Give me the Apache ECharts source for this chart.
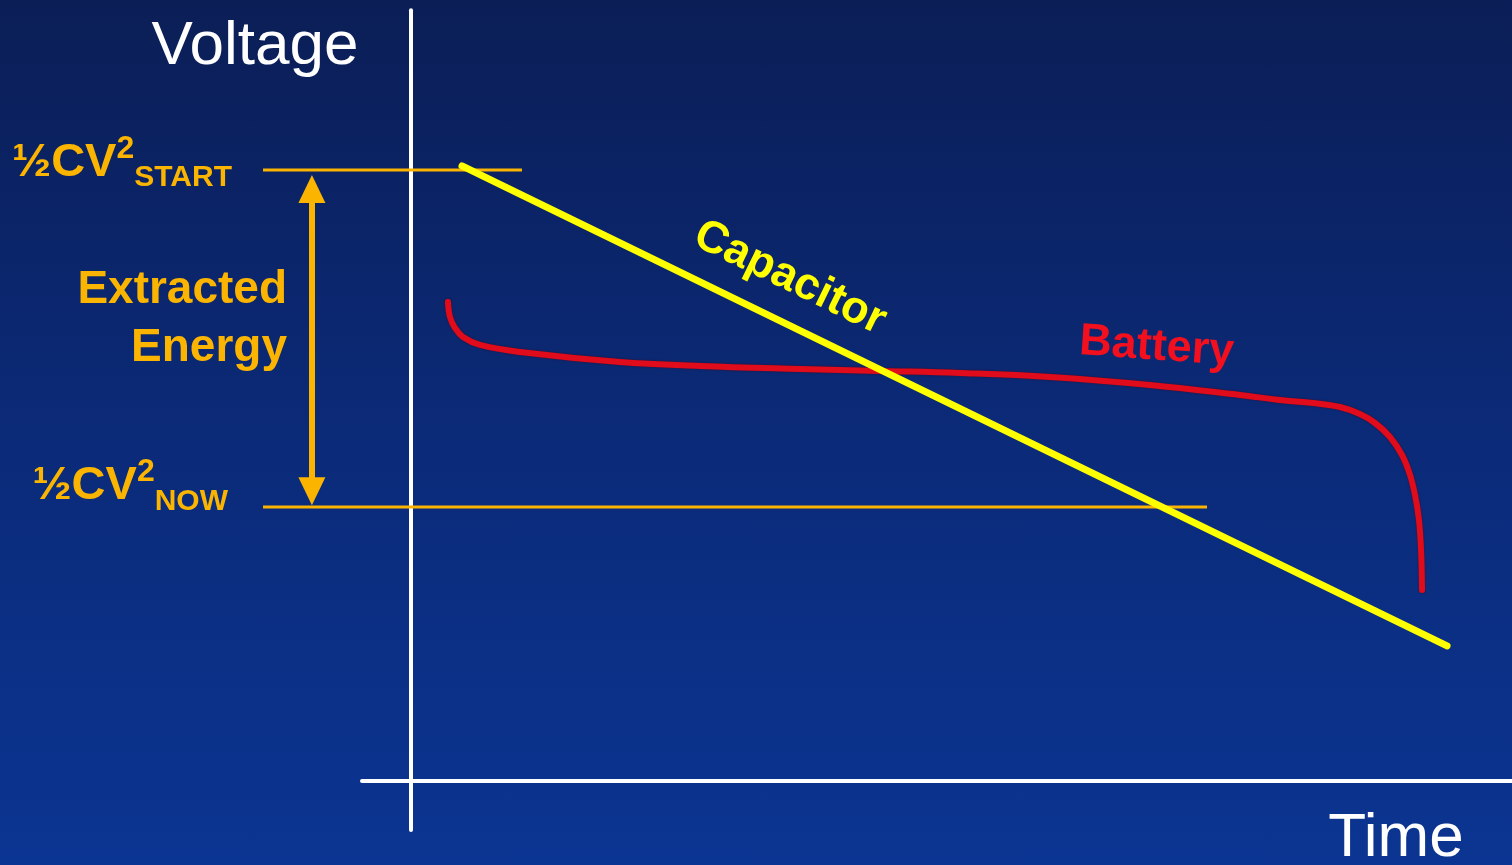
<!DOCTYPE html>
<html><head><meta charset="utf-8">
<script src="https://cdn.jsdelivr.net/npm/echarts@6/dist/echarts.min.js"></script>
<style>
html,body{margin:0;padding:0;width:1512px;height:865px;overflow:hidden;background:linear-gradient(180deg,#0b1e56 0%,#0b2a78 50%,#0b3592 100%);}
#c{width:1512px;height:865px;}
</style>
</head><body><div id="c"></div>
<script>
// ---- data (time units horizontally, voltage units vertically) ----
const timeRange = [-37.33, 100];
const voltageRange = [-10.755, 100];
const timeAxisExtent = [-4.45, 100];
const voltageAxisExtent = [-6.27, 98.7];

const energyLevelNames = ['START', 'NOW'];
const energyLevelValues = [78.23, 35.08];
const energyLineFrom = [-13.44, -13.44];
const energyLineTo = [10.08, 72.3];
const energyLabelTime = [-16.26, -16.62];
const energyLabelVoltage = [79.14, 37.72];
const arrowTime = -9;
const arrowVoltage = [75.8, 37.1];

const capacitorTime = [4.63, 94.1];
const capacitorVoltage = [78.75, 17.29];

const batteryTime = [3.36, 3.54, 4.0, 4.72, 6.27, 9.9, 18.98, 26.25, 35.33, 42.6, 49.86, 58.04, 67.12, 75.3, 78.93, 81.93, 84.38, 86.19, 87.56, 88.92, 90.01, 90.74, 91.19, 91.55, 91.74, 91.83];
const batteryVoltage = [61.33, 59.41, 58.0, 56.85, 55.83, 54.93, 53.65, 53.14, 52.75, 52.5, 52.24, 51.73, 50.7, 49.42, 48.78, 48.40, 47.89, 46.99, 45.84, 44.05, 41.74, 39.18, 36.62, 33.42, 29.58, 24.46];

const textLabels = ['Voltage', 'Time', 'Extracted\nEnergy', 'Capacitor', 'Battery'];
const textTime = [-14.17, 89.46, -11.26, 34.42, 67.72];
const textVoltage = [94.05, -7.36, 59.15, 64.4, 55.55];

// ---- styles ----
const FONT = "'Liberation Sans', Arial, sans-serif";
const ORANGE = '#fbb400';
const YELLOW = '#ffff00';
const RED = '#e00b1b';
const WHITE = '#ffffff';

const zip = (a, b) => a.map((v, i) => [v, b[i]]);

const series = [];
// axes
series.push({type:'line', data:[[0, voltageAxisExtent[0]],[0, voltageAxisExtent[1]]], symbol:'none', silent:true, z:1,
  lineStyle:{color:WHITE, width:4, cap:'round'}});
series.push({type:'line', data:[[timeAxisExtent[0],0],[timeAxisExtent[1],0]], symbol:'none', silent:true, z:1,
  lineStyle:{color:WHITE, width:4, cap:'round'}});
// energy levels
energyLevelValues.forEach((v, i) => {
  series.push({type:'line', data:[[energyLineFrom[i], v],[energyLineTo[i], v]], symbol:'none', silent:true, z:2,
    lineStyle:{color:ORANGE, width:3}});
  series.push({type:'scatter', data:[[energyLabelTime[i], energyLabelVoltage[i]]], symbolSize:0, silent:true, z:5,
    itemStyle:{opacity:1},
    label:{show:true, position:'left', distance:0, opacity:1,
      formatter:'{m|½CV}{sup|2}{sub|' + energyLevelNames[i] + '}',
      rich:{
        m:{fontFamily:FONT, fontSize:47, fontWeight:'bold', color:ORANGE, lineHeight:60, verticalAlign:'middle'},
        sup:{fontFamily:FONT, fontSize:32, fontWeight:'bold', color:ORANGE, lineHeight:29, verticalAlign:'top'},
        sub:{fontFamily:FONT, fontSize:30, fontWeight:'bold', color:ORANGE, lineHeight:36, verticalAlign:'bottom'}
      }}});
});
// arrow
series.push({type:'line', data:[], silent:true, z:3,
  markLine:{silent:true, symbol:['triangle','triangle'], symbolSize:[27,28], label:{show:false},
    lineStyle:{color:ORANGE, width:6, type:'solid', opacity:1},
    itemStyle:{color:ORANGE},
    data:[[{coord:[arrowTime, arrowVoltage[0]]},{coord:[arrowTime, arrowVoltage[1]]}]]}});
// battery
series.push({type:'line', data:zip(batteryTime, batteryVoltage), symbol:'none', smooth:0.4, silent:true, z:3,
  lineStyle:{color:RED, width:6, cap:'round', join:'round', shadowColor:'rgba(80,0,0,0.7)', shadowBlur:2}});
// capacitor
series.push({type:'line', data:zip(capacitorTime, capacitorVoltage), symbol:'none', silent:true, z:4,
  lineStyle:{color:YELLOW, width:7, cap:'round'}});
// text labels
const textStyles = [
  {fontSize:62, fontWeight:'normal', color:WHITE, rotate:0, position:'inside'},
  {fontSize:62, fontWeight:'normal', color:WHITE, rotate:0, position:'inside'},
  {fontSize:46, fontWeight:'bold', color:ORANGE, rotate:0, position:'left', lineHeight:58, align:'right'},
  {fontSize:45, fontWeight:'bold', color:YELLOW, rotate:-26, position:'inside'},
  {fontSize:45, fontWeight:'bold', color:'#f2101f', rotate:-4, position:'inside'}
];
textLabels.forEach((t, i) => {
  const s = textStyles[i];
  series.push({type:'scatter', data:[[textTime[i], textVoltage[i]]], symbolSize:0, silent:true, z:6,
    itemStyle:{opacity:1},
    label:{show:true, formatter:t, position:s.position, distance:0, rotate:s.rotate, opacity:1,
      fontFamily:FONT, fontSize:s.fontSize, fontWeight:s.fontWeight, color:s.color,
      lineHeight:s.lineHeight, align:s.align}});
});

const chart = echarts.init(document.getElementById('c'));
chart.setOption({
  backgroundColor:'transparent',
  animation:false,
  grid:{left:0, right:0, top:0, bottom:0},
  xAxis:{type:'value', min:timeRange[0], max:timeRange[1], show:false},
  yAxis:{type:'value', min:voltageRange[0], max:voltageRange[1], show:false},
  series
});
</script></body></html>
